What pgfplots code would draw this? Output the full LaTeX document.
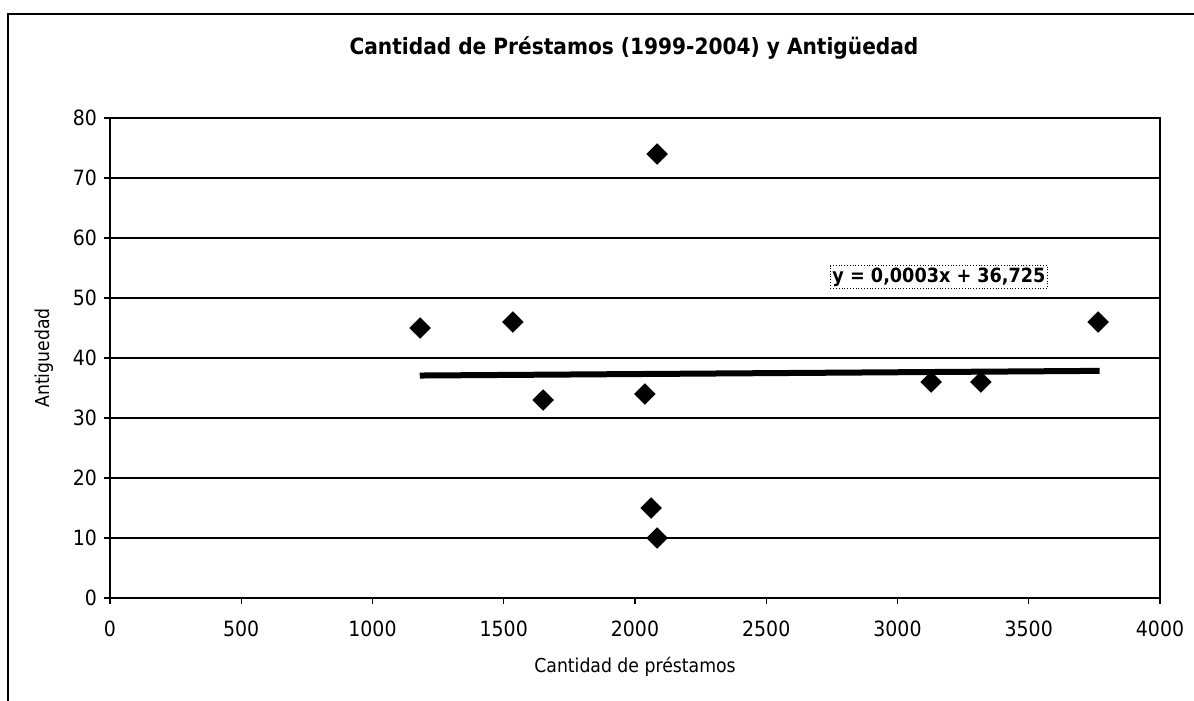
\documentclass[border=0pt]{standalone}
\usepackage{pgfplots}
\pgfplotsset{compat=1.18}
\usepackage{fontspec}
\setmainfont{DejaVu Sans Condensed}
\begin{document}
\begin{tikzpicture}
\useasboundingbox (-55pt,-51.5pt) rectangle (542pt,299pt);
\draw[line width=0.8pt] (-51pt,-60pt) -- (-51pt,292pt) -- (560pt,292pt);
\node[font=\bfseries\fontsize{11.2}{13}\selectfont] at (262pt,275pt) {Cantidad de Préstamos (1999-2004) y Antigüedad};
\begin{axis}[
	at={(0pt,0pt)}, anchor=origin,
	scale only axis,
	width=525pt, height=240pt,
	xmin=0, xmax=4000, ymin=0, ymax=80,
	xtick={0,500,...,4000}, ytick={0,10,...,80},
	ymajorgrids, grid style={black, line width=0.6pt},
	axis line style={line width=1pt},
	tick style={black, line width=0.6pt},
	tick align=outside, xtick pos=bottom, ytick pos=left,
	major tick length=3pt,
	scaled x ticks=false,
	xticklabel style={/pgf/number format/1000 sep={}, yshift=-5pt},
	/pgf/number format/assume math mode=true,
	tick label style={font=\fontsize{10.5}{12}\selectfont},
	label style={font=\fontsize{9.6}{11}\selectfont},
	xlabel={Cantidad de préstamos},
	ylabel={Antiguedad},
	xlabel style={yshift=-3pt},
	ylabel style={yshift=3pt},
]
% puntos
\addplot[only marks, mark=square*, mark size=3.6pt, mark options={rotate=45}, black] coordinates {
(1181,45) (1535,46) (1650,33) (2038,34) (2061,15) (2084,10)
(2084,74) (3128,36) (3318,36) (3764,46)
};
% tendencia lineal
\addplot[black, line width=3pt] coordinates {(1180,37.079) (3770,37.856)};
\node[draw, densely dotted, inner sep=1pt, fill=white, font=\bfseries\fontsize{9.8}{11}\selectfont] at (axis cs:3158,53.5) {y = 0,0003x + 36,725};
\end{axis}
\end{tikzpicture}
\end{document}
